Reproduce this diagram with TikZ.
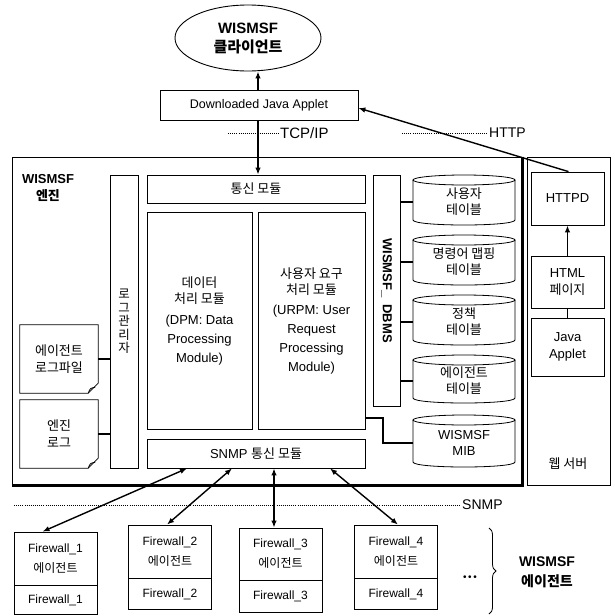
\documentclass[tikz,border=0pt]{standalone}
\usepackage{fontspec}
\setmainfont{Liberation Sans}
\newfontfamily\kr{Noto Sans CJK KR}
\usetikzlibrary{arrows.meta,calc,shapes.geometric,decorations.pathreplacing}
\tikzset{
  bx/.style={draw, line width=0.8pt, inner sep=0pt, align=center},
  lbl/.style={inner sep=0pt, align=center},
  arr/.style={line width=1.4pt, -{Latex[length=7pt,width=5.5pt]}},
  dbl/.style={line width=1.4pt, {Latex[length=7pt,width=5.5pt]}-{Latex[length=7pt,width=5.5pt]}},
  dotln/.style={line width=0.8pt, dash pattern=on 0.9pt off 1.2pt},
  conn/.style={line width=1.2pt},
  cyltext/.style={inner sep=0pt, align=center, minimum width=102pt, font=\kr\fontsize{13}{16}\selectfont},
  lat/.style={font=\fontsize{13}{19}\selectfont},
  kor/.style={font=\kr\fontsize{13}{17}\selectfont},
}
\newcommand\mycyl[5]{%
  \node[cyltext] (#1) at (#2,{(#3+#4)/2+2}) {#5};
  \draw[line width=0.8pt] ({#2-51},{#3+5}) -- ({#2-51},{#4-5}) .. controls ({#2-51},{#4+1.67}) and ({#2+51},{#4+1.67}) .. ({#2+51},{#4-5}) -- ({#2+51},{#3+5});
  \draw[line width=0.8pt] (#2,{#3+5}) ellipse [x radius=51, y radius=5];
}
\newcommand\docshape[1]{%
  \draw[line width=0.8pt] (#1.north west) -- (#1.north east) -- ([yshift=10pt]#1.south east) -- ([xshift=-10pt]#1.south east) -- (#1.south west) -- cycle;
  \draw[line width=0.8pt] ([xshift=-10pt]#1.south east) .. controls ([xshift=-8pt,yshift=5pt]#1.south east) .. ([xshift=-3pt,yshift=6pt]#1.south east);
}
\begin{document}
\begin{tikzpicture}[x=1pt,y=-1pt]
\useasboundingbox (0,0) rectangle (614,616);
\fill[white] (0,0) rectangle (614,616);

% client
\node[draw, ellipse, line width=0.9pt, minimum width=146pt, minimum height=66pt, inner sep=0pt, align=center, font=\bfseries\fontsize{15}{19}\selectfont] (client) at (248,38) {WISMSF\\{\kr\bfseries 클라이언트}};
\node[bx, minimum width=198pt, minimum height=30pt, font=\fontsize{12.5}{15}\selectfont] (applet) at (259,105) {Downloaded Java Applet};

% engine frame
\node[draw, line width=0.8pt, minimum width=510pt, minimum height=328pt, inner sep=0pt] (engine) at (267,321) {};
\draw[line width=3.5pt] (engine.north east) -- (engine.south east) -- (engine.south west);
\node[lbl, font=\bfseries\fontsize{13}{17}\selectfont] (etitle) at (48,188) {WISMSF\\{\kr\bfseries 엔진}};

% web server frame
\node[draw, line width=0.8pt, minimum width=83pt, minimum height=328pt, inner sep=0pt] (web) at (568.5,321) {};
\node[lbl, kor] (weblbl) at (568,464) {웹 서버};
\node[bx, minimum width=73pt, minimum height=53pt, lat] (httpd) at (567.5,198.5) {HTTPD};
\node[bx, minimum width=73pt, minimum height=52pt, font=\fontsize{13}{17}\selectfont] (html) at (567.5,282) {HTML\\{\kr 페이지}};
\node[bx, minimum width=73pt, minimum height=58pt, font=\fontsize{13}{17}\selectfont] (japplet) at (567.5,347) {Java\\Applet};
\draw[arr] (html.north) -- (httpd.south);
\draw[conn] (japplet.north) -- (html.south);

% log manager and log files
\node[bx, minimum width=28pt, minimum height=293pt, font=\kr\fontsize{12.5}{13.5}\selectfont] (logmgr) at (124,321.5) {로\\그\\관\\리\\자};
\node[lbl, minimum width=78pt, minimum height=68pt, kor] (agentlog) at (59,359) {에이전트\\로그파일};
\docshape{agentlog}
\node[lbl, minimum width=78pt, minimum height=68pt, kor] (enginelog) at (59,434) {엔진\\로그};
\docshape{enginelog}
\draw[conn] (agentlog.east) -- (agentlog.east -| logmgr.west);
\draw[conn] (enginelog.east) -- (enginelog.east -| logmgr.west);

% modules
\node[bx, minimum width=218pt, minimum height=28pt, kor] (comm) at (256,189) {통신 모듈};
\node[bx, minimum width=105pt, minimum height=217pt, lat] (dpm) at (199.5,320.5) {{\kr 데이터}\\[-3pt]{\kr 처리 모듈}\\[2pt](DPM: Data\\Processing\\Module)};
\node[bx, minimum width=107pt, minimum height=217pt, lat] (urpm) at (311.5,320.5) {{\kr 사용자 요구}\\[-3pt]{\kr 처리 모듈}\\[1pt](URPM: User\\Request\\Processing\\Module)};
\node[bx, minimum width=218pt, minimum height=29pt, lat] (snmpmod) at (256,453.5) {SNMP {\kr 통신 모듈}};

% DBMS
\node[bx, minimum width=27pt, minimum height=231pt] (dbms) at (386.5,290.5) {};
\node[lbl, rotate=-90, font=\bfseries\fontsize{13}{15}\selectfont] (dbmslbl) at (dbms.center) {WISMSF\_\ \ DBMS};
\mycyl{cyl1}{464}{175}{225}{사용자\\테이블}
\mycyl{cyl2}{464}{235}{285}{명령어 맵핑\\테이블}
\mycyl{cyl3}{464}{295}{345}{정책\\테이블}
\mycyl{cyl4}{464}{355}{403}{에이전트\\테이블}
\mycyl{mib}{464}{415}{467}{\fontspec{Liberation Sans}WISMSF\\\fontspec{Liberation Sans}MIB}
\draw[conn] (dbms.east |- cyl1.west) -- (cyl1.west);
\draw[conn] (dbms.east |- cyl2.west) -- (cyl2.west);
\draw[conn] (dbms.east |- cyl3.west) -- (cyl3.west);
\draw[conn] (dbms.east |- cyl4.west) -- (cyl4.west);
\coordinate (mibbend) at (383,418);
\draw[conn] (urpm.east |- mibbend) -- (mibbend) |- (mib.west);

% top connections
\coordinate (tcpx) at (258,0);
\draw[arr] (tcpx |- applet.north) -- (tcpx |- client.south);
\draw[arr] (tcpx |- applet.south) -- (tcpx |- comm.north);
\draw[arr] ([xshift=1pt]httpd.north) -- ([yshift=-3pt]applet.east);

% protocol labels
\coordinate (tcpa) at (228,133); \coordinate (tcpb) at (279,133);
\draw[dotln] (tcpa) -- (tcpb);
\node[lbl, anchor=west, font=\fontsize{15}{17}\selectfont] (tcplbl) at ([xshift=1pt]tcpb) {TCP/IP};
\coordinate (httpa) at (402,133); \coordinate (httpb) at (487,133);
\draw[dotln] (httpa) -- (httpb);
\node[lbl, anchor=west, font=\fontsize{14}{16}\selectfont] (httplbl) at ([xshift=2pt]httpb) {HTTP};
\coordinate (snmpa) at (14,505); \coordinate (snmpb) at (460,505);
\draw[dotln] (snmpa) -- (snmpb);
\node[lbl, anchor=west, font=\fontsize{14}{16}\selectfont] (snmplbl) at ([xshift=2pt]snmpb) {SNMP};

% firewalls
\tikzset{fwtop/.style={bx, minimum width=83pt, align=center, font=\fontsize{12}{20}\selectfont},
         fwbot/.style={bx, minimum width=83pt, font=\fontsize{12}{15}\selectfont}}
\node[fwtop, minimum height=53pt] (fw1a) at (55.5,558.5) {Firewall\_1\\{\kr 에이전트}};
\node[fwbot, minimum height=29pt, anchor=north] (fw1b) at (fw1a.south) {Firewall\_1};
\node[fwtop, minimum height=53pt] (fw2a) at (170,551.5) {Firewall\_2\\{\kr 에이전트}};
\node[fwbot, minimum height=31pt, anchor=north] (fw2b) at (fw2a.south) {Firewall\_2};
\node[fwtop, minimum height=52pt] (fw3a) at (280.5,554) {Firewall\_3\\{\kr 에이전트}};
\node[fwbot, minimum height=32pt, anchor=north] (fw3b) at (fw3a.south) {Firewall\_3};
\node[fwtop, minimum height=53pt] (fw4a) at (396,551.5) {Firewall\_4\\{\kr 에이전트}};
\node[fwbot, minimum height=31pt, anchor=north] (fw4b) at (fw4a.south) {Firewall\_4};

\coordinate (fw3x) at (274,0);
\draw[dbl] ([xshift=-69pt]snmpmod.south) -- ([xshift=-13pt]fw1a.north);
\draw[dbl] ([xshift=-24pt]snmpmod.south) -- ([xshift=-3pt]fw2a.north);
\draw[dbl] (fw3x |- snmpmod.south) -- (fw3x |- fw3a.north);
\draw[dbl] ([xshift=74pt]snmpmod.south) -- ([xshift=2pt]fw4a.north);

\node[lbl, font=\fontsize{10}{12}\selectfont] (dots) at (470,578) {•\,•\,•};
\coordinate (bra) at (489,528); \coordinate (brb) at (489,614);
\draw[line width=0.8pt, decorate, decoration={brace, amplitude=7pt}] (bra) -- (brb);
\node[lbl, font=\bfseries\fontsize{14}{20}\selectfont] (agents) at (547,572) {WISMSF\\{\kr\bfseries 에이전트}};
\end{tikzpicture}
\end{document}
